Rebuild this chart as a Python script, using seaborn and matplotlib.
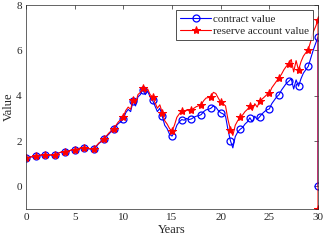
import numpy as np
import pandas as pd
import matplotlib
matplotlib.use('Agg')
import matplotlib.pyplot as plt
import seaborn as sns

# quarterly values, year 0 .. 30, then the final drop at year 30
contract_value = [
    1.25, 1.28, 1.31, 1.30,
    1.33, 1.36, 1.38, 1.39,
    1.40, 1.37, 1.39, 1.36,
    1.37, 1.45, 1.50, 1.52,
    1.54, 1.56, 1.58, 1.62,
    1.60, 1.64, 1.68, 1.69,
    1.70, 1.68, 1.66, 1.65,
    1.66, 1.78, 1.90, 1.98,
    2.08, 2.20, 2.30, 2.42,
    2.52, 2.66, 2.78, 2.85,
    2.98, 3.25, 3.40, 3.30,
    3.76, 3.55, 3.95, 4.05,
    4.27, 4.05, 4.20, 3.95,
    3.80, 3.55, 3.30, 3.45,
    3.10, 2.70, 2.55, 2.30,
    2.22, 2.40, 2.70, 2.85,
    2.95, 2.92, 3.00, 2.95,
    2.98, 3.05, 3.10, 3.12,
    3.17, 3.30, 3.38, 3.40,
    3.45, 3.55, 3.50, 3.35,
    3.25, 3.20, 3.10, 2.50,
    2.02, 1.70, 2.20, 2.40,
    2.52, 2.60, 2.75, 2.85,
    3.03, 2.85, 3.10, 2.95,
    3.07, 3.20, 3.30, 3.38,
    3.42, 3.65, 3.80, 3.95,
    4.05, 4.25, 4.40, 4.55,
    4.64, 4.75, 4.30, 4.70,
    4.42, 4.75, 5.00, 5.15,
    5.30, 5.65, 6.00, 6.30,
    6.59, 0.0,
]

reserve_value = [
    1.25, 1.28, 1.31, 1.30,
    1.33, 1.36, 1.38, 1.39,
    1.40, 1.37, 1.39, 1.36,
    1.37, 1.45, 1.50, 1.52,
    1.54, 1.56, 1.58, 1.62,
    1.60, 1.64, 1.68, 1.69,
    1.70, 1.68, 1.66, 1.65,
    1.66, 1.80, 1.92, 2.00,
    2.10, 2.22, 2.35, 2.45,
    2.55, 2.70, 2.85, 2.95,
    3.08, 3.35, 3.50, 3.40,
    3.83, 3.65, 4.05, 4.15,
    4.35, 4.15, 4.30, 4.05,
    3.95, 3.70, 3.45, 3.60,
    3.25, 2.90, 2.75, 2.55,
    2.44, 2.70, 3.05, 3.20,
    3.32, 3.28, 3.38, 3.33,
    3.36, 3.45, 3.52, 3.56,
    3.61, 3.78, 3.90, 3.92,
    3.95, 4.15, 4.10, 3.90,
    3.72, 3.65, 3.55, 2.95,
    2.50, 2.25, 2.70, 2.90,
    3.05, 3.15, 3.30, 3.40,
    3.55, 3.35, 3.65, 3.50,
    3.75, 3.85, 3.95, 4.05,
    4.10, 4.35, 4.50, 4.65,
    4.79, 4.95, 5.15, 5.30,
    5.42, 5.60, 5.05, 5.55,
    5.13, 5.50, 5.75, 5.90,
    6.04, 6.40, 6.80, 7.05,
    7.33, -1.0,
]

years = list(np.arange(0, 30.01, 0.25)) + [30.0]
marker_idx = list(range(0, 121, 4)) + [121]

df = pd.DataFrame({'Years': years, 'contract': contract_value, 'reserve': reserve_value})

sns.set_style('white')
plt.rcParams['font.family'] = ['Liberation Serif', 'DejaVu Serif']
plt.rcParams['xtick.direction'] = 'in'
plt.rcParams['ytick.direction'] = 'in'

fig = plt.figure(figsize=(3.27, 2.42), dpi=100)
ax = fig.add_axes([0.0795, 0.136, 0.893, 0.843])

sns.lineplot(data=df, x='Years', y='contract', ax=ax, estimator=None, sort=False,
             color='#0000ff', linewidth=0.8, marker='o', markersize=5,
             markerfacecolor='none', markeredgecolor='#0000ff', markeredgewidth=0.9,
             markevery=marker_idx, label='contract value')
sns.lineplot(data=df, x='Years', y='reserve', ax=ax, estimator=None, sort=False,
             color='#ff0000', linewidth=0.8, marker='*', markersize=6,
             markeredgecolor='#ff0000', markevery=marker_idx, label='reserve account value')

ax.set_xlim(0, 30)
ax.set_ylim(-1, 8)
ax.set_xticks([0, 5, 10, 15, 20, 25, 30])
ax.set_yticks([0, 2, 4, 6, 8])
ax.set_xlabel('Years', fontsize=9, labelpad=1)
ax.set_ylabel('Value', fontsize=9, labelpad=1)
ax.tick_params(labelsize=8, length=3, width=0.5, colors='#262626', top=True, right=True, pad=3)
for s in ax.spines.values():
    s.set_color('#262626')
    s.set_linewidth(0.5)

leg = ax.legend(loc='upper right', fontsize=8, frameon=True, fancybox=False,
                edgecolor='black', handlelength=2.8, borderpad=0.35, labelspacing=0.25,
                handletextpad=0.15, borderaxespad=0.45)
leg.get_frame().set_linewidth(0.6)

plt.savefig('out.png', dpi=100)
